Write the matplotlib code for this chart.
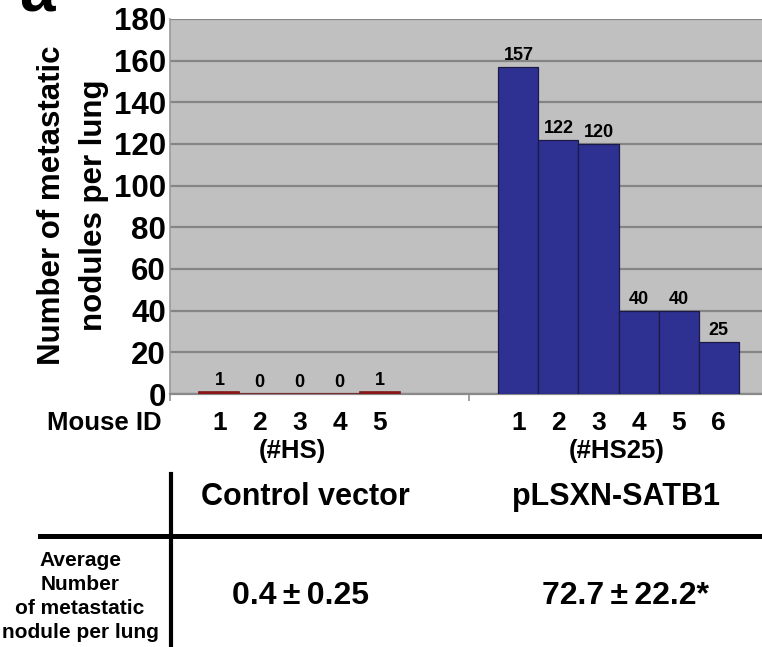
import matplotlib
matplotlib.use("Agg")
import matplotlib.pyplot as plt
from matplotlib.lines import Line2D
import matplotlib.transforms as mtrans

plt.rcParams['font.family'] = ['Liberation Sans', 'DejaVu Sans']
plt.rcParams['font.weight'] = 'bold'

# ---- data ----
groups = ["Control vector", "pLSXN-SATB1"]
group_ids = ["(#HS)", "(#HS25)"]
control_ids = ["1", "2", "3", "4", "5"]
control_vals = [1, 0, 0, 0, 1]
satb1_ids = ["1", "2", "3", "4", "5", "6"]
satb1_vals = [157, 122, 120, 40, 40, 25]
averages = ["0.4\u2009\u00b1\u20090.25", "72.7\u2009\u00b1\u200922.2*"]
yticks = [0, 20, 40, 60, 80, 100, 120, 140, 160, 180]

W, H = 762, 647
fig = plt.figure(figsize=(W / 100, H / 100), dpi=100)

def fx(x):
    return x / W

def fy(y):
    return 1 - y / H

ax = fig.add_axes([fx(170), fy(394), 598 / W, 375 / H])
ax.set_facecolor('#c0c0c0')

nser = 6
bw = 0.1338
def xpos(g, i):
    return g + 0.5 + (i - (nser - 1) / 2) * bw

red = '#e8141c'
blue = '#2e3192'
cx = [xpos(0, i) for i in range(len(control_vals))]
sx = [xpos(1, i) for i in range(len(satb1_vals))]
ax.bar(cx, control_vals, width=bw, color=red, edgecolor='#7a1818', linewidth=1.2, zorder=3)
ax.bar(sx, satb1_vals, width=bw, color=blue, edgecolor='#1a1a45', linewidth=0.9, zorder=3)

for x, v in zip(cx + sx, control_vals + satb1_vals):
    ax.annotate(str(v), (x, v), xytext=(0, 2), textcoords='offset points',
                ha='center', va='bottom', fontsize=13, fontweight='bold', zorder=4)

ax.set_xlim(0, 2)
ax.set_ylim(0, 180)
ax.set_yticks(yticks)
ax.set_yticklabels([str(t) for t in yticks], fontsize=22.5, fontweight='bold')
ax.tick_params(axis='y', length=0, pad=3)
ax.set_xticks([0, 1, 2])
ax.set_xticklabels([])
ax.tick_params(axis='x', length=5, width=1.2, color='#909090', direction='out')
ax.yaxis.grid(True, color='#858585', linewidth=1.6, zorder=1)
ax.set_axisbelow(True)
for s in ['top', 'right']:
    ax.spines[s].set_visible(False)
ax.spines['left'].set_color('#9a9a9a')
ax.spines['bottom'].set_color('#8a8a8a')
ax.spines['left'].set_linewidth(1.2)
ax.spines['bottom'].set_linewidth(1.6)

# mouse IDs
trans = mtrans.blended_transform_factory(ax.transData, fig.transFigure)
for x, lab in zip(cx, control_ids):
    ax.text(x, fy(423), lab, transform=trans, ha='center', va='center', fontsize=19, fontweight='bold')
for x, lab in zip(sx, satb1_ids):
    ax.text(x, fy(423), lab, transform=trans, ha='center', va='center', fontsize=19, fontweight='bold')
ax.text(cx[2] - 0.025, fy(451), group_ids[0], transform=trans, ha='center', va='center', fontsize=18.5, fontweight='bold')
ax.text((sx[2] + sx[3]) / 2 - 0.005, fy(451), group_ids[1], transform=trans, ha='center', va='center', fontsize=18.5, fontweight='bold')
fig.text(fx(162), fy(423), "Mouse ID", ha='right', va='center', fontsize=18.5, fontweight='bold')

# y label
fig.text(fx(52), fy(205), "Number of metastatic", rotation=90, ha='center', va='center', fontsize=22.5, fontweight='bold')
fig.text(fx(94), fy(205), "nodules per lung", rotation=90, ha='center', va='center', fontsize=22.5, fontweight='bold')

# panel letter (cut off at the top edge, as in the reference)
fig.text(fx(19), fy(12), "a", ha='left', va='baseline', fontsize=46, fontweight='bold')

# table
fig.add_artist(Line2D([fx(171), fx(171)], [fy(474), fy(647)], color='black', linewidth=3, transform=fig.transFigure))
fig.add_artist(Line2D([fx(40), fx(762)], [fy(536), fy(536)], color='black', linewidth=3.6, transform=fig.transFigure))
fig.text(fx(305), fy(497), groups[0], ha='center', va='center', fontsize=22, fontweight='bold')
fig.text(fx(616), fy(497), groups[1], ha='center', va='center', fontsize=22, fontweight='bold')
fig.text(fx(301), fy(596), averages[0], ha='center', va='center', fontsize=23, fontweight='bold')
fig.text(fx(625), fy(596), averages[1], ha='center', va='center', fontsize=23, fontweight='bold')
row_lines = ["Average", "Number", "of metastatic", "nodule per lung"]
for yy, t in zip([561, 585, 608, 633], row_lines):
    fig.text(fx(80), fy(yy), t, ha='center', va='center', fontsize=15, fontweight='bold')

fig.savefig("out.png", dpi=100)
